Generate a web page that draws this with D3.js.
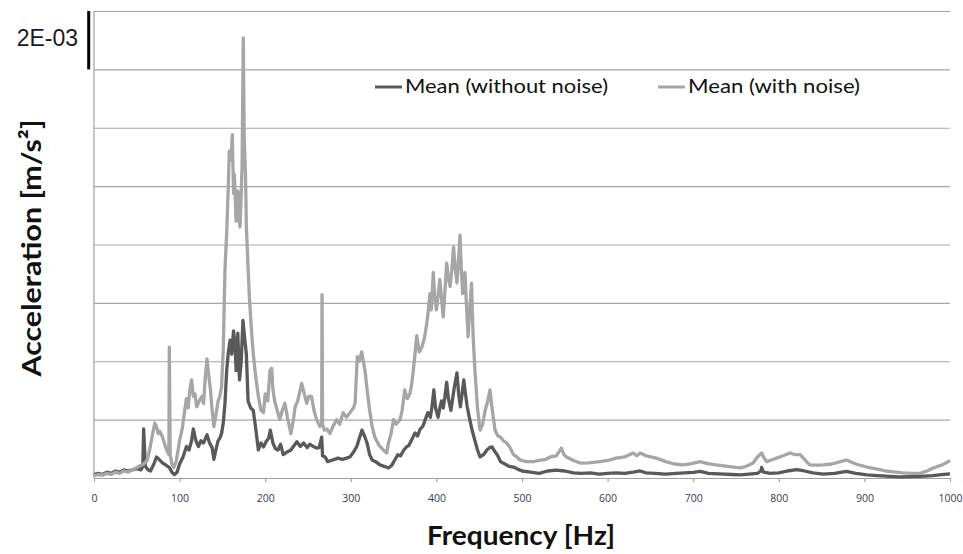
<!DOCTYPE html>
<html lang="en">
<head>
<meta charset="UTF-8">
<title>Mean acceleration spectrum</title>
<style>
    body { margin: 0; background: #fff; }
    svg { display: block; background: #fff; }
    .grid line { stroke: #a6a6a6; stroke-width: 1.2px; }
    .grid .domain { display: none; }
    .xaxis .domain, .xaxis .tick line { stroke: #a0a0a0; stroke-width: 1.2px; }
    .xaxis text { font-family: "Open Sans", sans-serif; font-size: 10.5px; fill: #3a3a50; }
    .axisTitle { font-family: Lato, "Open Sans", sans-serif; font-weight: bold; fill: #111; }
    .legend text { font-family: Lato, "Open Sans", sans-serif; font-size: 19px; fill: #111; }
    .series { fill: none; stroke-width: 3.3px; stroke-linejoin: round; }
</style>
<script src="https://cdn.jsdelivr.net/npm/d3@7"></script>
</head>
<body>
<script>
    // values, in units of 1e-4 m/s^2
    const cleanHz = [0,5,10,15,20,25,30,35,40,45,50,55,57,58,60,63,66,70,73,76,80,84,88,91,94,97,
        100,104,108,111,114,116,119,122,125,128,132,135,138,140,143,145,147,149,151,153,155,157,159,161,163,165,166,168,170,172,174,176,178,
        180,183,186,189,192,195,198,201,204,206,209,212,215,218,221,225,230,234,237,241,245,249,252,256,260,263,266,267,270,273,277,281,285,290,295,299,
        303,307,310,313,316,319,322,325,329,334,339,344,348,351,355,358,362,365,368,372,375,378,381,384,387,390,393,395,397,399,
        402,404,406,408,410,412,414,417,419,421,424,426,428,430,432,434,436,439,442,445,448,451,455,459,462,465,468,471,475,480,485,490,495,
        500,510,520,530,540,550,560,570,580,590,600,610,620,630,638,645,655,668,680,690,700,708,718,730,745,755,765,775,779,780,782,790,
        800,810,821,830,840,852,865,879,890,903,915,930,941,955,965,980,990,1000];
    const cleanVal = [0.15,0.2,0.15,0.25,0.2,0.3,0.25,0.35,0.3,0.35,0.4,0.35,0.5,2.1,0.5,0.35,0.3,0.6,0.9,0.8,0.65,0.55,0.45,0.25,0.15,0.25,
        0.6,0.9,1.35,1.2,1.6,2.1,1.6,1.35,1.6,1.5,1.85,1.5,1.3,0.8,1.3,1.6,1.7,1.9,2.35,3.2,4.6,5.4,5.9,5.3,6.3,5.6,4.6,6.2,4.2,5.0,6.75,6.0,5.3,
        3.3,3.0,2.9,2.1,1.2,1.5,1.33,1.55,1.7,2.05,1.5,1.25,1.2,1.45,1.0,1.1,1.2,1.4,1.55,1.35,1.5,1.3,1.45,1.35,1.28,1.3,1.75,0.95,0.9,0.7,0.75,0.8,0.85,0.8,0.85,0.9,
        1.1,1.35,1.7,2.05,1.8,1.5,1.0,0.77,0.7,0.56,0.5,0.43,0.55,0.75,1.0,0.95,1.2,1.33,1.4,1.7,1.93,1.8,2.1,2.2,2.5,2.8,2.6,3.1,3.77,3.0,
        2.6,3.0,3.3,3.0,3.5,4.1,3.4,2.9,3.4,3.9,4.5,3.6,3.05,3.6,4.2,3.6,3.05,2.5,2.0,1.6,1.2,0.9,1.0,1.2,1.3,1.33,1.15,1.0,0.7,0.6,0.5,0.47,0.38,
        0.3,0.25,0.2,0.3,0.34,0.3,0.22,0.2,0.22,0.17,0.2,0.22,0.2,0.25,0.3,0.22,0.2,0.17,0.2,0.22,0.24,0.28,0.2,0.18,0.15,0.13,0.17,0.2,0.3,0.45,0.25,0.2,
        0.22,0.3,0.36,0.3,0.22,0.17,0.2,0.28,0.2,0.13,0.1,0.07,0.05,0.06,0.07,0.1,0.14,0.18];

    const noisyHz = [0,5,10,15,20,25,30,35,40,45,50,55,58,62,65,68,71,73,75,77,80,83,86,87.5,88,89,91,93,96,
        100,103,106,108,110,112,114,116,118,120,123,126,128,130,132,134,136,138,140,142,145,147,149,151,153,155,157,158,160,161.6,163,164,166,168,169,170.6,172,173,174.4,175.5,177,178,
        180,181.5,184,186,189,192,195,198,200,203,205.6,207.6,209,211,214,217,220,223,226,230,233,235,238,242.6,245,248.5,251,254,257,260,264,266,266.4,267,269,272,275.7,279,283.5,287,291,295,299,
        303,305,307.6,310,312.7,316.6,319,322,325,328,333,338,342,344,347,350,353,357.5,360,363,366,369,371,373,375,377,380,383,386,388.7,390,392.5,394,396.4,398,
        400,402,404,406,408,410,412,414,416,418,420,422,424,426,427.6,429,430.7,433.4,435,437,439,441,443,445,448,451,454,457,460,462.6,465,468.5,472,475,478,482,486,490,494,497.7,
        505,513,520,528,533,540,546,549,552,560,568,578,591,600,610,620,630,634,638,645,657,668,678,688,698,708,717,727,740,754.7,762,770,775,780,783,786,792,797.5,
        805,813,819,825,830,836,845,852,862,872,879,890,902.7,915,925,934,945,955,965,973,980.5,990,998,1000];
    const noisyVal = [0.1,0.15,0.12,0.2,0.15,0.25,0.2,0.3,0.25,0.35,0.45,0.55,0.6,0.75,1.2,1.8,2.35,2.2,1.9,2.0,1.75,1.4,1.1,1.0,5.6,1.0,0.6,0.45,0.7,
        1.6,2.1,2.9,3.4,3.0,3.8,4.2,3.5,3.6,3.05,3.3,3.5,3.2,4.3,5.1,4.4,3.8,2.9,2.2,2.6,3.3,3.5,3.9,5.5,8.9,10.5,12.6,14.0,13.6,14.7,12.2,13.0,11.0,12.3,11.2,10.75,12.2,13.4,18.85,14.5,13.0,10.75,
        9.0,7.75,6.3,5.35,4.3,3.5,2.9,2.8,3.6,3.3,4.6,4.7,3.8,3.3,2.9,2.5,2.9,3.2,2.6,1.9,2.5,3.05,3.3,4.05,3.7,3.2,3.5,3.5,2.9,2.5,2.2,2.3,7.85,2.3,2.05,2.1,1.9,2.2,2.5,2.3,2.8,2.6,2.8,
        3.0,3.2,5.2,5.0,5.4,4.6,3.8,2.9,2.2,1.75,1.4,1.2,1.07,1.5,1.9,2.5,2.3,2.5,2.9,3.77,3.4,3.6,4.0,4.6,5.3,6.1,5.4,5.6,6.0,6.6,7.0,7.9,7.2,8.8,7.8,
        7.2,7.8,8.5,7.7,6.9,8.0,9.2,8.6,8.2,8.9,9.9,9.0,8.35,9.4,10.4,9.0,7.9,8.8,7.5,6.05,7.2,8.35,6.0,4.6,3.0,2.05,2.3,2.9,3.3,3.77,3.0,2.05,1.8,1.75,1.6,1.5,1.3,1.0,0.9,0.77,
        0.7,0.7,0.75,0.8,0.9,0.95,1.28,1.0,0.9,0.75,0.64,0.65,0.7,0.75,0.85,0.9,1.07,0.95,1.07,0.95,0.85,0.7,0.6,0.56,0.62,0.7,0.62,0.56,0.5,0.43,0.5,0.64,0.9,1.07,0.85,0.7,0.78,0.85,
        0.95,1.07,1.0,1.0,0.8,0.56,0.55,0.56,0.6,0.7,0.77,0.6,0.47,0.38,0.3,0.26,0.22,0.2,0.2,0.3,0.43,0.55,0.7,0.75];

    const xTicks = [0,100,200,300,400,500,600,700,800,900,1000];
    const yGrid = [0.00025,0.0005,0.00075,0.001,0.00125,0.0015,0.00175,0.002];
    const unit = 1e-4;

    const width = 963, height = 554;
    const margins = {top: 11, bottom: 76, left: 94, right: 13};

    const svg = d3.select("body").append("svg")
        .attr("width", width).attr("height", height)
        .attr("viewBox", `0,0,${width},${height}`);

    const x = d3.scaleLinear().domain([0, 1000]).range([margins.left, width - margins.right]);
    const y = d3.scaleLinear().domain([0, 0.002]).range([height - margins.bottom, margins.top]);

    // horizontal grid lines
    svg.append("g").attr("class", "grid")
        .attr("transform", `translate(${margins.left},0)`)
        .call(d3.axisLeft(y).tickValues(yGrid).tickSize(-(width - margins.left - margins.right)).tickFormat(""));

    // value axis line
    svg.append("line")
        .attr("x1", x(0)).attr("x2", x(0))
        .attr("y1", y(0)).attr("y2", y(0.002))
        .attr("stroke", "#a0a0a0").attr("stroke-width", 1.2);

    // x axis
    svg.append("g").attr("class", "xaxis")
        .attr("transform", `translate(0,${y(0)})`)
        .call(d3.axisBottom(x).tickValues(xTicks).tickFormat(d3.format("d"))
            .tickSize(4).tickPadding(13).tickSizeOuter(0));

    // top label and marker
    svg.append("line")
        .attr("x1", 88.7).attr("x2", 88.7)
        .attr("y1", y(0.002)).attr("y2", y(0.00175))
        .attr("stroke", "#000").attr("stroke-width", 3);
    svg.append("text")
        .attr("x", 78).attr("y", 46)
        .attr("text-anchor", "end")
        .attr("font-family", "'Liberation Sans', Arial, sans-serif")
        .attr("font-size", 23)
        .attr("fill", "#1a1a1a")
        .text("2E-03");

    const line = d3.line().x(d => x(d[0])).y(d => y(d[1] * unit));

    const clean = d3.zip(cleanHz, cleanVal);
    const noisy = d3.zip(noisyHz, noisyVal);

    svg.append("path").datum(clean).attr("class", "series")
        .attr("stroke", "#595959").attr("d", line);
    svg.append("path").datum(noisy).attr("class", "series")
        .attr("stroke", "#a6a6a6").attr("d", line);

    // axis titles
    svg.append("text").attr("class", "axisTitle")
        .attr("x", 521).attr("y", 545)
        .attr("text-anchor", "middle")
        .attr("font-size", 26)
        .attr("textLength", 188).attr("lengthAdjust", "spacingAndGlyphs")
        .text("Frequency [Hz]");

    svg.append("text").attr("class", "axisTitle")
        .attr("transform", "translate(41,248) rotate(-90)")
        .attr("text-anchor", "middle")
        .attr("font-size", 27)
        .attr("textLength", 257).attr("lengthAdjust", "spacingAndGlyphs")
        .text("Acceleration [m/s²]");

    // legend
    const legendItems = [
        {label: "Mean (without noise)", color: "#595959", x: 375, w: 203},
        {label: "Mean (with noise)", color: "#a6a6a6", x: 658, w: 172}
    ];
    const legend = svg.append("g").attr("class", "legend");
    const item = legend.selectAll("g").data(legendItems).enter().append("g")
        .attr("transform", d => `translate(${d.x},87)`);
    item.append("line").attr("x1", 0).attr("x2", 27)
        .attr("stroke", d => d.color).attr("stroke-width", 3);
    item.append("text").attr("x", 30).attr("y", 6)
        .attr("textLength", d => d.w).attr("lengthAdjust", "spacingAndGlyphs")
        .text(d => d.label);
</script>
</body>
</html>
